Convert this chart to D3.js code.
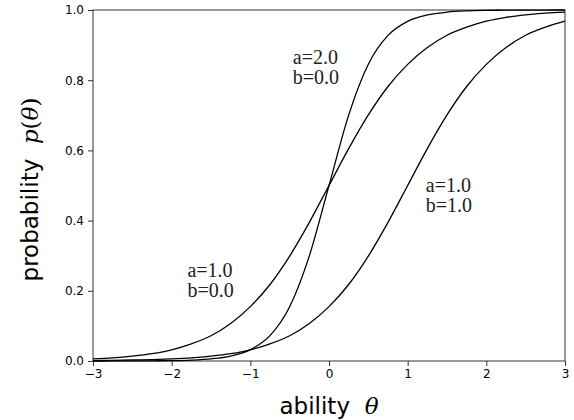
<!DOCTYPE html>
<html>
<head>
<meta charset="utf-8">
<script src="https://cdn.jsdelivr.net/npm/d3@7"></script>
<style>
  body { margin: 0; background: #fff; }
  svg { display: block; }
</style>
</head>
<body>
<svg id="chart" width="574" height="420"></svg>
<script>
// ability values on the x axis
const theta = [-3, -2.75, -2.5, -2.25, -2, -1.75, -1.5, -1.25, -1, -0.75, -0.5, -0.25, 0,
  0.25, 0.5, 0.75, 1, 1.25, 1.5, 1.75, 2, 2.25, 2.5, 2.75, 3];

// probability
const curveA1B0 = [0.006, 0.009, 0.014, 0.021, 0.032, 0.049, 0.072, 0.107, 0.155, 0.218, 0.299, 0.395, 0.5,
  0.605, 0.701, 0.782, 0.845, 0.893, 0.928, 0.951, 0.968, 0.979, 0.986, 0.991, 0.994];
const curveA2B0 = [0.0000, 0.0001, 0.0002, 0.0005, 0.0011, 0.0026, 0.0061, 0.0141, 0.0323, 0.0724, 0.1545, 0.2994, 0.5,
  0.7006, 0.8455, 0.9276, 0.9677, 0.9859, 0.9939, 0.9974, 0.9989, 0.9995, 0.9998, 0.9999, 1.0];
const curveA1B1 = [0.001, 0.002, 0.003, 0.004, 0.006, 0.009, 0.014, 0.021, 0.032, 0.049, 0.072, 0.107, 0.155,
  0.218, 0.299, 0.395, 0.5, 0.605, 0.701, 0.782, 0.845, 0.893, 0.928, 0.951, 0.968];

const xTicks = [-3, -2, -1, 0, 1, 2, 3];
const yTicks = [0, 0.2, 0.4, 0.6, 0.8, 1.0];

const labelLines = [["a=2.0", "b=0.0"], ["a=1.0", "b=1.0"], ["a=1.0", "b=0.0"]];
const labelTheta = [-0.46, 1.23, -1.8];
const labelP = [0.79, 0.424, 0.182];

const width = 574, height = 420;
const margin = { top: 10, right: 9, bottom: 59, left: 93 };

const svg = d3.select("#chart");

const x = d3.scaleLinear().domain([-3, 3]).range([margin.left, width - margin.right]);
const y = d3.scaleLinear().domain([0, 1]).range([height - margin.bottom, margin.top]);

const fmtMinus = d => d3.format("d")(d).replace("-", "\u2212");

// axes
const xAxis = svg.append("g")
  .attr("transform", "translate(0," + (height - margin.bottom) + ")")
  .call(d3.axisBottom(x).tickValues(xTicks).tickFormat(fmtMinus).tickSizeOuter(0).tickSize(5).tickPadding(3));
const yAxis = svg.append("g")
  .attr("transform", "translate(" + margin.left + ",0)")
  .call(d3.axisLeft(y).tickValues(yTicks).tickFormat(d3.format(".1f")).tickSizeOuter(0).tickSize(5).tickPadding(4));

[xAxis, yAxis].forEach(g => {
  g.selectAll(".domain").remove();
  g.selectAll("text").attr("font-family", "DejaVu Sans").attr("font-size", 12).attr("fill", "#000");
  g.selectAll("line").attr("stroke", "#000").attr("stroke-width", 0.8);
});

// box
svg.append("rect")
  .attr("x", margin.left)
  .attr("y", margin.top)
  .attr("width", width - margin.left - margin.right)
  .attr("height", height - margin.top - margin.bottom)
  .attr("fill", "none")
  .attr("stroke", "#000")
  .attr("stroke-width", 0.8);

// curves
const line = d3.line()
  .x((d, i) => x(theta[i]))
  .y(d => y(d))
  .curve(d3.curveMonotoneX);

[curveA1B0, curveA2B0, curveA1B1].forEach(series => {
  svg.append("path")
    .datum(series)
    .attr("fill", "none")
    .attr("stroke", "#000")
    .attr("stroke-width", 1.3)
    .attr("d", line);
});

// curve labels
labelLines.forEach((lines, i) => {
  const t = svg.append("text")
    .attr("font-family", "Liberation Serif")
    .attr("font-size", 20)
    .attr("fill", "#222");
  lines.forEach((s, j) => {
    t.append("tspan")
      .attr("x", x(labelTheta[i]))
      .attr("y", y(labelP[i]) - (lines.length - 1 - j) * 20)
      .text(s);
  });
});

// axis titles
const xt = svg.append("text")
  .attr("x", (margin.left + width - margin.right) / 2)
  .attr("y", 414)
  .attr("text-anchor", "middle")
  .attr("font-family", "DejaVu Sans")
  .attr("font-size", 23)
  .attr("fill", "#000")
  .style("white-space", "pre");
xt.append("tspan").text("ability\u00a0\u00a0");
xt.append("tspan").attr("font-family", "DejaVu Serif").attr("font-style", "italic").text("\u03b8");

const yt = svg.append("text")
  .attr("transform", "translate(38," + ((margin.top + height - margin.bottom) / 2 + 4) + ") rotate(-90)")
  .attr("text-anchor", "middle")
  .attr("font-family", "DejaVu Sans")
  .attr("font-size", 23)
  .attr("fill", "#000")
  .style("white-space", "pre");
yt.append("tspan").text("probability\u00a0\u00a0");
yt.append("tspan").attr("font-family", "DejaVu Serif").attr("font-style", "italic").text("p");
yt.append("tspan").attr("font-family", "DejaVu Serif").text("(");
yt.append("tspan").attr("font-family", "DejaVu Serif").attr("font-style", "italic").text("\u03b8");
yt.append("tspan").attr("font-family", "DejaVu Serif").text(")");
</script>
</body>
</html>
